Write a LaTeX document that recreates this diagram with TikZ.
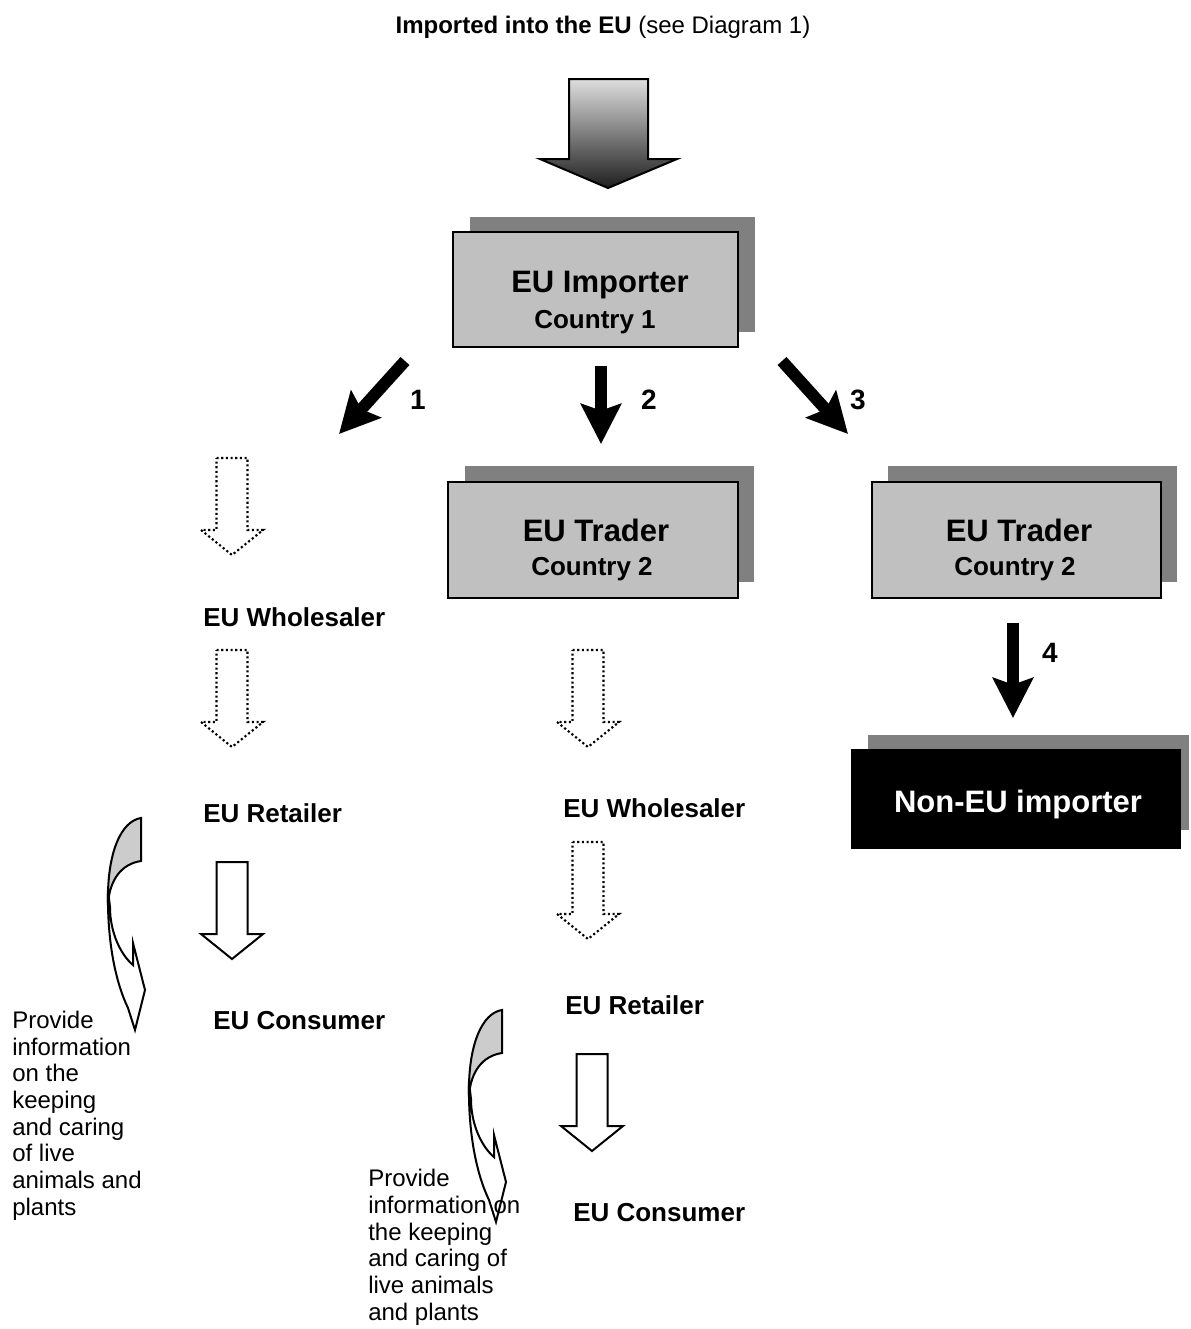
\documentclass[tikz,border=0pt]{standalone}
\usepackage{fontspec}
\setmainfont{Liberation Sans}
\usetikzlibrary{arrows.meta,fit}
\definecolor{boxgray}{HTML}{C0C0C0}
\definecolor{shadowgray}{HTML}{808080}
\definecolor{gradtop}{HTML}{DEDEDE}
\definecolor{gradbot}{HTML}{1E1E1E}
\definecolor{curvegray}{HTML}{CCCCCC}
\begin{document}
\begin{tikzpicture}[x=0.75pt,y=-0.75pt,
  shadowbox/.style={fill=shadowgray, draw=none},
  frontbox/.style={fill=boxgray, draw=black, line width=1.5pt, inner sep=0pt},
  darkbox/.style={fill=black, draw=black, line width=1pt, inner sep=0pt},
  thickarrow/.style={line width=9pt, -{Stealth[length=30pt,width=30pt,inset=5pt]}},
  dotarrow/.style={draw=black, line width=1.6pt, dash pattern=on 1.6pt off 1.9pt, fill=white},
  solidarrow/.style={draw=black, line width=1.5pt, fill=white},
  titletext/.style={inner sep=0pt, font=\fontsize{18}{21}\selectfont},
  boxtitle/.style={inner sep=0pt, font=\bfseries\fontsize{23.25}{27}\selectfont},
  boxsub/.style={inner sep=0pt, font=\bfseries\fontsize{19.5}{23}\selectfont},
  numlabel/.style={inner sep=0pt, font=\bfseries\fontsize{21}{25}\selectfont},
  stagetext/.style={inner sep=0pt, font=\bfseries\fontsize{19.5}{23}\selectfont},
  notetext/.style={inner sep=0pt, align=left, font=\fontsize{18}{20}\selectfont},
  pics/blockarrow/.style={code={
    \draw[#1] (-15.5,0) -- (15.5,0) -- (15.5,72) -- (31,72) -- (0,97)
      -- (-31,72) -- (-15.5,72) -- cycle;}},
  pics/curvedarrow/.style={code={
    \draw[line width=1.5pt, fill=white, line join=miter]
      (-33,72) .. controls (-34,125) and (-25,165) .. (-13,190)
      -- (-6,212) -- (4,172) -- (-8,125) -- (-8,147)
      .. controls (-20,137) and (-31,115) .. (-31,89) -- cycle;
    \draw[line width=1.5pt, fill=curvegray, line join=miter]
      (0,0) .. controls (-20,3) and (-34,35) .. (-33,85)
      .. controls (-31,62) and (-20,46) .. (0,43) -- cycle;}}
]
\useasboundingbox (0,0) rectangle (1190,1329);

% title
\node[titletext, anchor=base] (title) at (603,33)
  {\textbf{Imported into the EU} (see Diagram 1)};

% big gradient arrow
\shadedraw[top color=gradtop, bottom color=gradbot, draw=black, line width=1.5pt]
  (569,79) -- (648,79) -- (648,159) -- (677,159) -- (608,188)
  -- (540,159) -- (569,159) -- cycle;

% EU Importer
\fill[shadowbox] (470,217) rectangle (755,332);
\node[frontbox, fit={(453,232) (738,347)}] (imp) {};
\node[boxtitle, anchor=base] (impt) at (600,292) {EU Importer};
\node[boxsub, anchor=base] (imps) at (595,328) {Country 1};

% thick arrows 1-3
\coordinate (a1s) at (405,361);
\coordinate (a1e) at (339,434);
\coordinate (a2s) at (601,366);
\coordinate (a2e) at (601,444);
\coordinate (a3s) at (782,361);
\coordinate (a3e) at (848,434);
\draw[thickarrow] (a1s) -- (a1e);
\draw[thickarrow] (a2s) -- (a2e);
\draw[thickarrow] (a3s) -- (a3e);
\node[numlabel, anchor=base] (n1) at (418,409) {1};
\node[numlabel, anchor=base] (n2) at (649,409) {2};
\node[numlabel, anchor=base] (n3) at (858,409) {3};

% middle trader
\fill[shadowbox] (465,466) rectangle (754,582);
\node[frontbox, fit={(448,482) (738,598)}] (tradm) {};
\node[boxtitle, anchor=base] (tradmt) at (596,541) {EU Trader};
\node[boxsub, anchor=base] (tradms) at (592,575) {Country 2};

% right trader
\fill[shadowbox] (888,466) rectangle (1177,582);
\node[frontbox, fit={(872,482) (1161,598)}] (tradr) {};
\node[boxtitle, anchor=base] (tradrt) at (1019,541) {EU Trader};
\node[boxsub, anchor=base] (tradrs) at (1015,575) {Country 2};

% arrow 4
\coordinate (a4s) at (1013,623);
\coordinate (a4e) at (1013,718);
\draw[thickarrow] (a4s) -- (a4e);
\node[numlabel, anchor=base] (n4) at (1050,662) {4};

% non-EU importer
\fill[shadowbox] (868,735) rectangle (1189,830);
\node[darkbox, fit={(852,750) (1180,848)}] (nonEU) {};
\node[boxtitle, text=white, anchor=base] (nonEUt) at (1018,812) {Non-EU importer};

% left column
\pic at (232,458) {blockarrow={dotarrow}};
\node[stagetext, anchor=base west] (lwhole) at (203,626) {EU Wholesaler};
\pic at (232,650) {blockarrow={dotarrow}};
\node[stagetext, anchor=base west] (lret) at (203,822) {EU Retailer};
\pic at (232,862) {blockarrow={solidarrow}};
\node[stagetext, anchor=base west] (lcons) at (213,1029) {EU Consumer};
\pic at (141,818) {curvedarrow};
\node[notetext, anchor=base west] (lnote) at (12,1215)
  {Provide\\information\\on the\\keeping\\and caring\\of live\\animals and\\plants};

% middle column
\pic at (588,650) {blockarrow={dotarrow}};
\node[stagetext, anchor=base west] (mwhole) at (563,817) {EU Wholesaler};
\pic at (588,842) {blockarrow={dotarrow}};
\node[stagetext, anchor=base west] (mret) at (565,1014) {EU Retailer};
\pic at (592,1054) {blockarrow={solidarrow}};
\node[stagetext, anchor=base west] (mcons) at (573,1221) {EU Consumer};
\pic at (502,1010) {curvedarrow};
\node[notetext, anchor=base west] (mnote) at (368,1320)
  {Provide\\information on\\the keeping\\and caring of\\live animals\\and plants};
\end{tikzpicture}
\end{document}
